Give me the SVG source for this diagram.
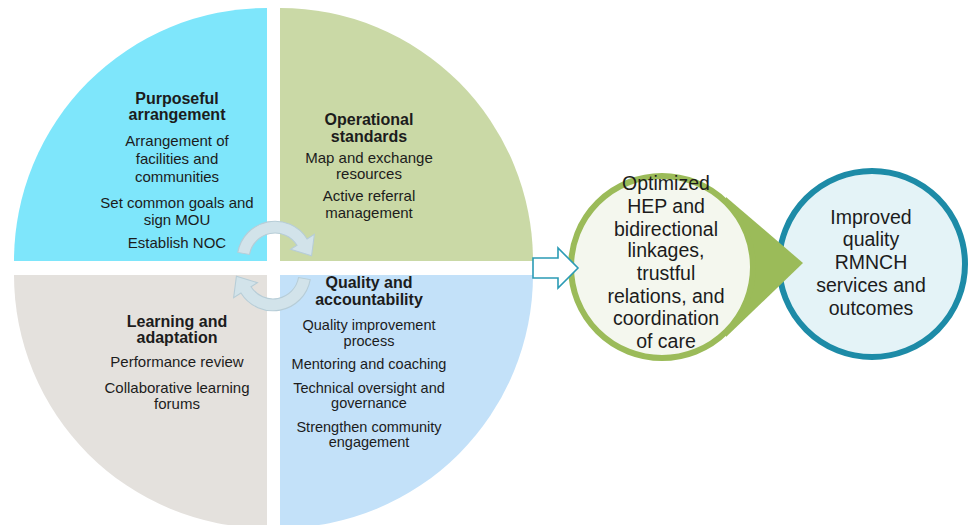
<svg xmlns="http://www.w3.org/2000/svg" xmlns:xlink="http://www.w3.org/1999/xlink" width="971" height="525" viewBox="0 0 971 525">
  <style>
    text { font-family: "Liberation Sans", Arial, sans-serif; fill: #1c1c1c; text-anchor: middle; }
    .head { font-size: 16px; font-weight: bold; }
    .item { font-size: 15px; }
    .item-sm { font-size: 14.5px; }
    .big { font-size: 19.5px; }
    .swirl { fill: #d2e3ea; stroke: #b7cdd7; stroke-width: 1; }
  </style>
  <defs>
    <!-- curved cycle arrow, centred on its own arc origin -->
    <path id="turn" d="M-34.47,-6.08 A35,35 0 0 1 29.68,-18.55 L36.46,-22.79 L33.87,-2.96 L14.42,-9.01 L20.35,-12.72 A24,24 0 0 0 -23.64,-4.17 Z"/>
  </defs>

  <rect width="971" height="525" fill="#ffffff"/>

  <!-- four quadrants of the cycle wheel -->
  <g id="purposeful-arrangement">
    <path d="M267,261 L14,261 A253,253 0 0 1 267,8 Z" fill="#7ee6fb"/>
    <text class="head" x="177" y="104">Purposeful</text>
    <text class="head" x="177" y="120">arrangement</text>
    <text class="item" x="177" y="146">Arrangement of</text>
    <text class="item" x="177" y="164">facilities and</text>
    <text class="item" x="177" y="182">communities</text>
    <text class="item" x="177" y="208">Set common goals and</text>
    <text class="item" x="177" y="225">sign MOU</text>
    <text class="item" x="177" y="248">Establish NOC</text>
  </g>

  <g id="operational-standards">
    <path d="M280,261 L280,8 A253,253 0 0 1 533,261 Z" fill="#cad9a6"/>
    <text class="head" x="369" y="125">Operational</text>
    <text class="head" x="369" y="142">standards</text>
    <text class="item" x="369" y="163">Map and exchange</text>
    <text class="item" x="369" y="179">resources</text>
    <text class="item" x="369" y="201">Active referral</text>
    <text class="item" x="369" y="218">management</text>
  </g>

  <g id="learning-adaptation">
    <path d="M267,275 L267,528 A253,253 0 0 1 14,275 Z" fill="#e4e1dd"/>
    <text class="head" x="177" y="327">Learning and</text>
    <text class="head" x="177" y="343">adaptation</text>
    <text class="item" x="177" y="367">Performance review</text>
    <text class="item" x="177" y="393">Collaborative learning</text>
    <text class="item" x="177" y="409">forums</text>
  </g>

  <g id="quality-accountability">
    <path d="M280,275 L533,275 A253,253 0 0 1 280,528 Z" fill="#c3e1f9"/>
    <text class="head" x="369" y="288">Quality and</text>
    <text class="head" x="369" y="305">accountability</text>
    <text class="item-sm" x="369" y="330">Quality improvement</text>
    <text class="item-sm" x="369" y="346">process</text>
    <text class="item-sm" x="369" y="369">Mentoring and coaching</text>
    <text class="item-sm" x="369" y="393">Technical oversight and</text>
    <text class="item-sm" x="369" y="408">governance</text>
    <text class="item-sm" x="369" y="432">Strengthen community</text>
    <text class="item-sm" x="369" y="447">engagement</text>
  </g>

  <!-- cycle arrows in the middle of the wheel -->
  <g id="cycle">
    <use xlink:href="#turn" class="swirl" transform="translate(275 259) scale(1.08)"/>
    <use xlink:href="#turn" class="swirl" transform="rotate(180 274 266) translate(275 259) scale(1.08)"/>
  </g>

  <g id="improved-quality">
    <circle cx="872" cy="264" r="93" fill="#e4f3f7" stroke="#1d8ba7" stroke-width="6"/>
    <text class="big" x="871" y="224">Improved</text>
    <text class="big" x="871" y="246">quality</text>
    <text class="big" x="871" y="269">RMNCH</text>
    <text class="big" x="871" y="292">services and</text>
    <text class="big" x="871" y="315">outcomes</text>
  </g>

  <g id="optimized-hep">
    <polygon points="726,197 803,263 726,337" fill="#9bbb59"/>
    <circle cx="662" cy="267" r="91" fill="#f4f7ee" stroke="#9bbb59" stroke-width="6"/>
    <text class="big" x="666" y="190">Optimized</text>
    <text class="big" x="666" y="213">HEP and</text>
    <text class="big" x="666" y="236">bidirectional</text>
    <text class="big" x="666" y="257">linkages,</text>
    <text class="big" x="666" y="280">trustful</text>
    <text class="big" x="666" y="303">relations, and</text>
    <text class="big" x="666" y="325">coordination</text>
    <text class="big" x="666" y="348">of care</text>
  </g>

  <g id="connectors">
    <polygon points="533,258 558,258 558,248 578,268 558,288 558,278 533,278" fill="#ffffff" stroke="#2b9bb5" stroke-width="1.6"/>
  </g>
</svg>
